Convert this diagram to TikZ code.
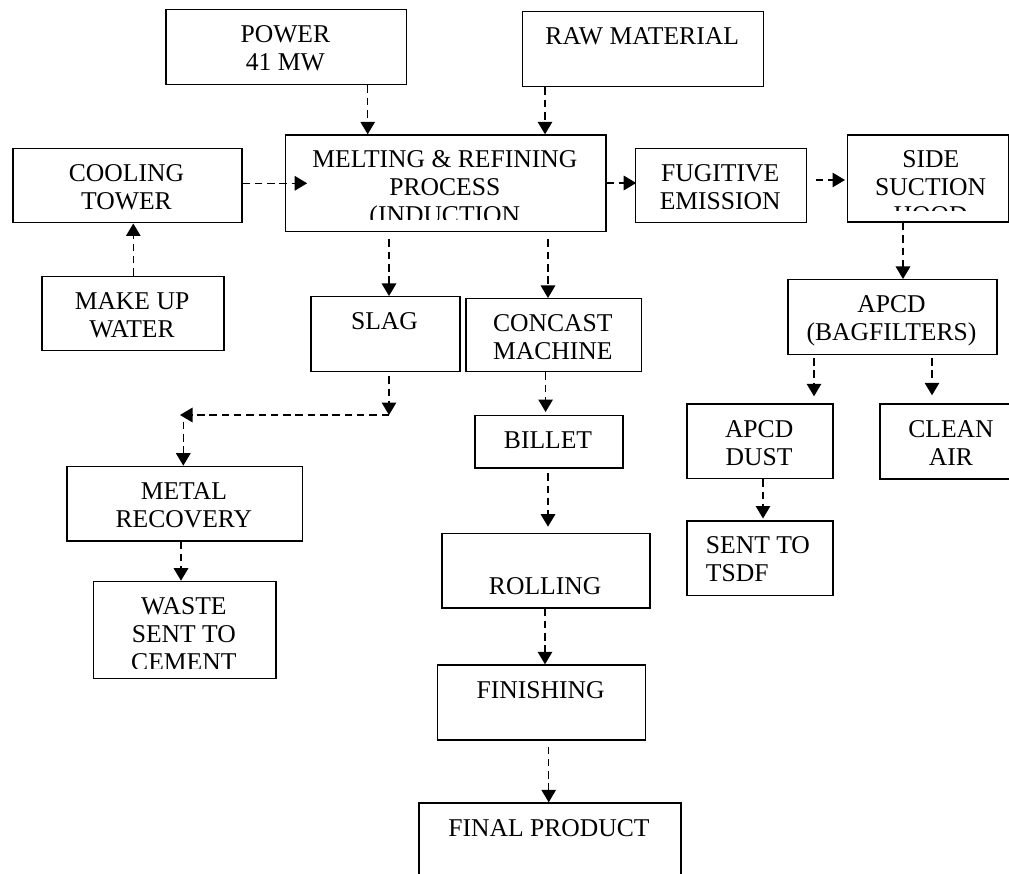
\documentclass[tikz,border=0pt]{standalone}
\usepackage{fontspec}
\setmainfont{Liberation Serif}
\usetikzlibrary{arrows.meta}
\newcommand{\tstrut}{\rule{0pt}{20pt}}
\begin{document}
\begin{tikzpicture}[x=1pt,y=-1pt,
  box/.style={draw, line width=1.5pt, rectangle, inner sep=0pt, anchor=north west},
  txt/.style={font=\fontsize{25.6}{28}\selectfont, align=center, anchor=north, inner sep=0pt},
  txtl/.style={txt, align=left, anchor=north west},
  arr/.style={draw, line width=1.4pt, dash pattern=on 7.5pt off 4.8pt, -{Triangle[width=14.5pt,length=12.5pt]}}
]
\useasboundingbox (0,0) rectangle (1009,874);
\clip (0,0) rectangle (1009,874);

% boxes
\node[box, minimum width=240.7pt, minimum height=75pt] (power) at (165,9) {};
\node[box, minimum width=241pt, minimum height=75.3pt] (raw) at (521.7,10.7) {};
\node[box, minimum width=229pt, minimum height=74.3pt] (cool) at (12,147.7) {};
\node[box, minimum width=320.3pt, minimum height=96.7pt] (melt) at (284.7,134.3) {};
\node[box, minimum width=171pt, minimum height=74.3pt] (fug) at (634.7,147.7) {};
\node[box, minimum width=161.6pt, minimum height=87.2pt] (side) at (846.7,134.3) {};
\node[box, minimum width=182pt, minimum height=74.3pt] (makeup) at (41,275.7) {};
\node[box, minimum width=149pt, minimum height=74.7pt] (slag) at (310,296) {};
\node[box, minimum width=175.5pt, minimum height=73pt] (concast) at (465,298) {};
\node[box, minimum width=209pt, minimum height=74.7pt] (bag) at (787,279) {};
\node[box, minimum width=148pt, minimum height=52.8pt] (billet) at (474,414.5) {};
\node[box, minimum width=235.7pt, minimum height=74.3pt] (metal) at (66,465.7) {};
\node[box, minimum width=182.3pt, minimum height=97pt] (waste) at (92.7,580.7) {};
\node[box, minimum width=146.3pt, minimum height=74.4pt] (dust) at (686,403.3) {};
\node[box, minimum width=144pt, minimum height=75pt] (clean) at (879,403.3) {};
\node[box, minimum width=146.3pt, minimum height=74.5pt] (tsdf) at (686,520) {};
\node[box, minimum width=208.3pt, minimum height=74.3pt] (rolling) at (441,532.7) {};
\node[box, minimum width=208.2pt, minimum height=75pt] (finishing) at (436.5,664.3) {};
\node[box, minimum width=262pt, minimum height=100pt] (final) at (418,802.3) {};

% texts
\node[txt] (power-t) at (285.35,22.5) {\tstrut POWER\\41 MW};
\node[txt] (raw-t) at (642.2,24.2) {\tstrut RAW MATERIAL};
\node[txt] (cool-t) at (126.5,161.2) {\tstrut COOLING\\TOWER};
\begin{scope}
\clip (284.7,134.3) rectangle (605,220);
\node[txt] (melt-t) at (444.85,147.8) {\tstrut MELTING \& REFINING\\PROCESS\\(INDUCTION};
\end{scope}
\node[txt] (fug-t) at (720.2,161.2) {\tstrut FUGITIVE\\EMISSION};
\begin{scope}
\clip (846.7,134.3) rectangle (1008.3,211);
\node[txt] (side-t) at (930.7,147.8) {\tstrut SIDE\\SUCTION\\HOOD};
\end{scope}
\node[txt] (makeup-t) at (132,289.2) {\tstrut MAKE UP\\WATER};
\node[txt] (slag-t) at (384.5,309.5) {\tstrut SLAG};
\node[txt] (concast-t) at (552.75,311.5) {\tstrut CONCAST\\MACHINE};
\node[txt] (bag-t) at (891.5,292.5) {\tstrut APCD\\(BAGFILTERS)};
\node[txt] (billet-t) at (548,428) {\tstrut BILLET};
\node[txt] (metal-t) at (183.85,479.2) {\tstrut METAL\\RECOVERY};
\begin{scope}
\clip (92.7,580.7) rectangle (275,668);
\node[txt] (waste-t) at (183.85,594.2) {\tstrut WASTE\\SENT TO\\CEMENT};
\end{scope}
\node[txt] (dust-t) at (759.15,416.8) {\tstrut APCD\\DUST};
\node[txt] (clean-t) at (951,416.8) {\tstrut CLEAN\\AIR};
\node[txtl] (tsdf-t) at (705.7,533.5) {\tstrut SENT TO\\TSDF};
\node[txt] (rolling-t) at (545.15,546.2) {\tstrut\\ROLLING};
\node[txt] (finishing-t) at (540.6,677.8) {\tstrut FINISHING};
\node[txt] (final-t) at (549,815.8) {\tstrut FINAL PRODUCT};

% free-end coordinates
\coordinate (c1) at (389,415);
\coordinate (c2) at (180,415);
\coordinate (c3) at (183.3,421.7);

% connectors
\draw[arr] (power.south -| 367.7,0) -- (melt.north -| 367.7,0);
\draw[arr] (raw.south -| 545,0) -- (melt.north -| 545,0);
\draw[arr, shorten >=-22.5pt] (cool.east |- 0,183.3) -- (melt.west |- 0,183.3);
\draw[arr, shorten >=-1.5pt] (melt.east |- 0,183) -- (fug.west |- 0,183);
\draw[arr, shorten <=8.3pt, shorten >=1.7pt] (fug.east |- 0,180) -- (side.west |- 0,180);
\draw[arr] (makeup.north -| 133.3,0) -- (cool.south -| 133.3,0);
\draw[arr, shorten <=7pt] (melt.south -| 389,0) -- (slag.north -| 389,0);
\draw[arr, shorten <=7pt] (melt.south -| 548,0) -- (concast.north -| 548,0);
\draw[arr, shorten <=4pt] (slag.south -| 389,0) -- (c1);
\draw[arr] (c1) -- (c2);
\draw[arr] (c3) -- (metal.north -| 183.3,0);
\draw[arr] (metal.south -| 181,0) -- (waste.north -| 181,0);
\draw[arr, shorten >=2.5pt] (concast.south -| 545.6,0) -- (billet.north -| 545.6,0);
\draw[arr, shorten <=4.4pt, shorten >=6pt] (billet.south -| 548,0) -- (rolling.north -| 548,0);
\draw[arr] (rolling.south -| 545,0) -- (finishing.north -| 545,0);
\draw[arr, shorten <=5.7pt] (finishing.south -| 548.7,0) -- (final.north -| 548.7,0);
\draw[arr] (side.south -| 903,0) -- (bag.north -| 903,0);
\draw[arr, shorten <=3pt, shorten >=7pt] (bag.south -| 814,0) -- (dust.north -| 814,0);
\draw[arr, shorten <=3pt, shorten >=8pt] (bag.south -| 932,0) -- (clean.north -| 932,0);
\draw[arr, shorten >=1.5pt] (dust.south -| 763,0) -- (tsdf.north -| 763,0);
\end{tikzpicture}
\end{document}
